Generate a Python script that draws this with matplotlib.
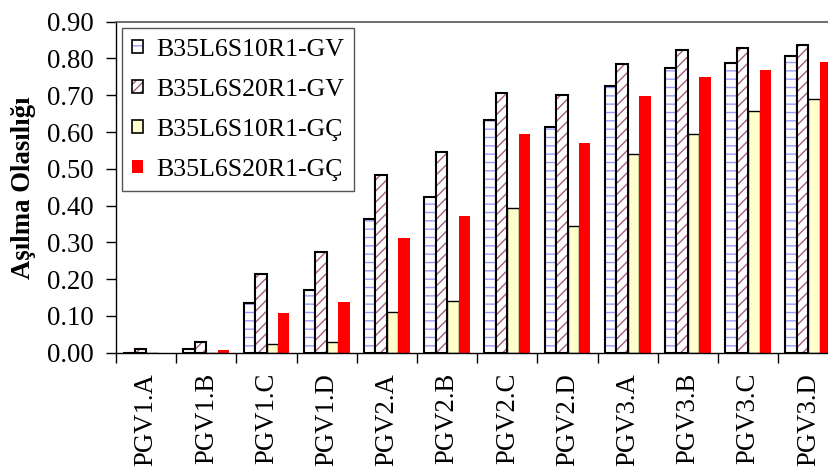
import matplotlib
matplotlib.use("Agg")
import matplotlib.pyplot as plt
import numpy as np
from matplotlib.patches import Patch
from matplotlib.legend_handler import HandlerTuple

plt.rcParams['font.family'] = ['Liberation Serif', 'DejaVu Serif']
plt.rcParams['hatch.linewidth'] = 1.0

categories = ["PGV1.A", "PGV1.B", "PGV1.C", "PGV1.D",
              "PGV2.A", "PGV2.B", "PGV2.C", "PGV2.D",
              "PGV3.A", "PGV3.B", "PGV3.C", "PGV3.D"]

s10_gv = [0.000, 0.010, 0.136, 0.171, 0.364, 0.424, 0.633, 0.614, 0.725, 0.775, 0.789, 0.808]
s20_gv = [0.010, 0.030, 0.213, 0.273, 0.483, 0.545, 0.706, 0.700, 0.784, 0.823, 0.828, 0.838]
s10_gc = [0.000, 0.000, 0.024, 0.028, 0.111, 0.140, 0.393, 0.344, 0.540, 0.594, 0.657, 0.691]
s20_gc = [0.000, 0.006, 0.107, 0.137, 0.313, 0.371, 0.595, 0.570, 0.697, 0.750, 0.770, 0.790]

labels = ["B35L6S10R1-GV", "B35L6S20R1-GV", "B35L6S10R1-GÇ", "B35L6S20R1-GÇ"]
yticks = [0.0, 0.1, 0.2, 0.3, 0.4, 0.5, 0.6, 0.7, 0.8, 0.9]

FS = 19.3
LFS = 18.6
fig = plt.figure(figsize=(8.29, 4.68), dpi=100)
ax = fig.add_axes([116 / 829, 115.3 / 468, 722.4 / 829, 331 / 468])

x = np.arange(len(categories))
w = 0.19
offs = [-1.5 * w, -0.5 * w, 0.5 * w, 1.5 * w]

# series 1: white with horizontal blue lines, black outline
ax.bar(x + offs[0], s10_gv, w, color='white', edgecolor='#9a9aff', hatch='--', linewidth=0)
ax.bar(x + offs[0], s10_gv, w, fill=False, edgecolor='black', linewidth=1.5)
# series 2: white with diagonal mauve lines, black outline
ax.bar(x + offs[1], s20_gv, w, color='white', edgecolor='#a85c84', hatch='///', linewidth=0)
ax.bar(x + offs[1], s20_gv, w, fill=False, edgecolor='black', linewidth=1.5)
# series 3: pale yellow, black outline
ax.bar(x + offs[2], s10_gc, w, color='#ffffcc', edgecolor='black', linewidth=1.0)
# series 4: solid red
ax.bar(x + offs[3], s20_gc, w, color='#ff0000', edgecolor='none', linewidth=0)

ax.set_xlim(-0.5, len(categories) - 0.5)
ax.set_ylim(0, 0.9)
ax.set_yticks(yticks)
ax.set_yticklabels([f"{v:.2f}" for v in yticks], fontsize=FS)
ax.set_xticks(x)
ax.set_xticklabels(categories, rotation=90, fontsize=FS)
ax.set_xticks(np.arange(-0.5, len(categories)), minor=True)
ax.tick_params(axis='x', which='major', length=0, pad=14.5)
ax.tick_params(axis='x', which='minor', length=7, width=1, direction='out')
ax.tick_params(axis='y', which='major', length=7, width=1, direction='out', pad=9)

ax.spines['right'].set_visible(False)
ax.spines['top'].set_color('#555555')
ax.spines['top'].set_linewidth(1.2)
ax.spines['left'].set_linewidth(1.0)
ax.spines['bottom'].set_linewidth(1.0)

ax.set_ylabel("Aşılma Olasılığı", fontsize=FS, fontweight='bold', labelpad=8)

h1 = (Patch(facecolor='white', edgecolor='#9a9aff', hatch='--', linewidth=0),
      Patch(fill=False, edgecolor='black', linewidth=1.2))
h2 = (Patch(facecolor='white', edgecolor='#a85c84', hatch='////', linewidth=0),
      Patch(fill=False, edgecolor='black', linewidth=1.2))
h3 = Patch(facecolor='#ffffcc', edgecolor='black', linewidth=1.2)
h4 = Patch(facecolor='#ff0000', edgecolor='none')

leg = ax.legend([h1, h2, h3, h4], labels, loc='upper left',
                bbox_to_anchor=(121.7 / 829, 1 - 28.3 / 468), bbox_transform=fig.transFigure,
                fontsize=LFS, handler_map={tuple: HandlerTuple(ndivide=1)},
                handlelength=0.42, handleheight=0.42, handletextpad=0.5,
                labelspacing=0.7, borderpad=0.4, borderaxespad=0,
                fancybox=False, framealpha=1, edgecolor='#555555')
leg.get_frame().set_linewidth(1.0)

fig.savefig("out.png", dpi=100)
